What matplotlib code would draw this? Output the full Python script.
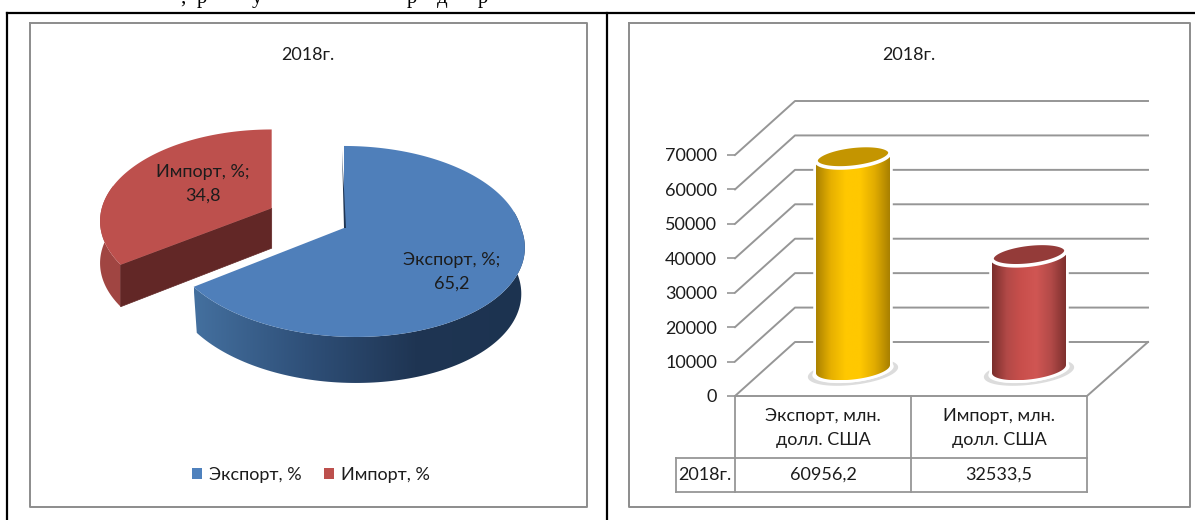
import numpy as np
import matplotlib
matplotlib.use("Agg")
import matplotlib.pyplot as plt
from matplotlib.colors import LinearSegmentedColormap
from matplotlib.patches import Patch, Polygon
from matplotlib.transforms import blended_transform_factory

plt.rcParams["font.family"] = ["Lato", "DejaVu Sans"]
TEXT = "#1c1c1c"
GRID = "#969696"
FS = 13

# data
year = "2018г."
pie_names = ["Экспорт, %", "Импорт, %"]
pie_shares = [65.2, 34.8]
bar_names = ["Экспорт, млн.\nдолл. США", "Импорт, млн.\nдолл. США"]
bar_values = [60956.2, 32533.5]
y_ticks = [0, 10000, 20000, 30000, 40000, 50000, 60000, 70000]


def comma(v):
    return f"{v:.1f}".replace(".", ",")


def gradient(ax, clip_pts, colors, zorder):
    # horizontal colour ramp cut to the shape of clip_pts
    cmap = LinearSegmentedColormap.from_list("g", colors)
    patch = Polygon(clip_pts, fc="none", ec="none", zorder=zorder)
    ax.add_patch(patch)
    x0, x1 = clip_pts[:, 0].min(), clip_pts[:, 0].max()
    y0, y1 = clip_pts[:, 1].min(), clip_pts[:, 1].max()
    im = ax.imshow(
        np.linspace(0, 1, 256)[None, :],
        cmap=cmap,
        extent=[x0, x1, y0, y1],
        aspect="auto",
        zorder=zorder,
    )
    im.set_clip_path(patch)


fig = plt.figure(figsize=(11.95, 5.2), dpi=100, facecolor="white")

# page layer in pixels
bg = fig.add_axes([0, 0, 1, 1])
bg.axis("off")

# page frame, panels
bg.plot([7, 1195], [13, 13], color="black", lw=1.6)
bg.plot([7, 7], [13, 520], color="black", lw=1.6)
bg.plot([607, 607], [13, 520], color="black", lw=1.6)
for x0, x1 in [(30, 587), (629, 1190)]:
    bg.plot([x0, x1, x1, x0, x0], [23, 23, 507, 507, 23], color="#8c8c8c", lw=1.4)
    bg.text((x0 + x1) / 2 - 1, 55, year, ha="center", va="center", fontsize=FS, color=TEXT)

# clipped line of the page text above the frame
for xt, s in [(183, ","), (202, "р"), (257, "у"), (412, "р"), (442, "д"), (483, "р")]:
    bg.text(xt, 3, s, family="Liberation Serif", fontsize=15, ha="center",
            va="baseline", color="black", clip_on=True)

# ---- pie ----
CX, CY = 344, 228
A, B, K = 177, 93.6, 0.141


def rim(theta, explode=0.0, mid=0.0, scale=1.0, drop=0.0, shrink=1.0, skew=0.0):
    # theta clockwise from 12 o'clock, perspective ellipse
    u, v = np.sin(theta), -np.cos(theta)
    x = CX + A * explode * np.sin(mid) + A * scale * shrink * u / (1 - K * v)
    x = x + skew * np.clip(v, 0, None)
    y = CY - B * explode * np.cos(mid) + B * scale * v / (1 - K * v) + drop
    return np.column_stack([x, y])


ends = np.cumsum(pie_shares) / np.sum(pie_shares) * 2 * np.pi
blue_end, red_end = ends
red_mid = (blue_end + red_end) / 2
explode = 0.46
red_kw = dict(explode=explode, mid=red_mid, scale=0.96)

# exploded slice
t = np.linspace(blue_end, np.radians(285), 40)
wall = np.vstack([rim(t, **red_kw), rim(t[::-1], drop=42, **red_kw)])
bg.add_patch(Polygon(wall, fc="#a04542", ec="none", zorder=2))
red_apex = rim(np.array([0.0]), explode=explode, mid=red_mid, scale=0.0)
p0 = rim(np.array([blue_end]), **red_kw)
inner = np.vstack([red_apex, p0, p0 + [0, 42], red_apex + [0, 40]])
bg.add_patch(Polygon(inner, fc="#622726", ec="#622726", lw=0.5, zorder=3))
t = np.linspace(blue_end, red_end, 120)
bg.add_patch(Polygon(np.vstack([red_apex, rim(t, **red_kw)]), fc="#bd504d", ec="none", zorder=4))

# main slice
t = np.linspace(np.radians(80), blue_end, 120)
wall = np.vstack([rim(t, skew=12), rim(t[::-1], drop=46, shrink=0.98, skew=12)])
gradient(bg, wall, ["#44709f", "#2f5079", "#1f3553", "#1c3350"], 2)
t = np.linspace(0, blue_end, 200)
apex = np.array([[CX, CY]])
bg.add_patch(Polygon(np.vstack([apex, rim(t, skew=12)]), fc="#4f7fba", ec="none", zorder=4))
bg.add_patch(Polygon([[CX - 2, 150], [CX + 2, CY], [CX, CY]], fc="#1f3553", ec="none", zorder=5))

bg.text(203, 184, f"{pie_names[1]};\n{comma(pie_shares[1])}", ha="center", va="center",
        fontsize=FS, color=TEXT, linespacing=1.6, zorder=6)
bg.text(452, 272, f"{pie_names[0]};\n{comma(pie_shares[0])}", ha="center", va="center",
        fontsize=FS, color=TEXT, linespacing=1.6, zorder=6)

handles = [Patch(fc="#4f81bd", label=pie_names[0]), Patch(fc="#bd504d", label=pie_names[1])]
bg.legend(
    handles=handles,
    ncol=2,
    loc="center",
    bbox_to_anchor=(311, 475),
    bbox_transform=bg.transData,
    frameon=False,
    fontsize=FS,
    labelcolor=TEXT,
    handlelength=0.58,
    handleheight=0.58,
    handletextpad=0.4,
    columnspacing=1.2,
)

# ---- cylinders ----
ax = fig.add_axes([735 / 1195, (520 - 396) / 520, 352 / 1195, 241 / 520], zorder=2)
ax.patch.set_visible(False)
for s in ax.spines.values():
    s.set_visible(False)

DX, DY = 60 / 176, 54 / 241 * 70000
X_END = 413 / 176
for v in y_ticks:
    ax.plot([0, DX, X_END], [v, v + DY, v + DY], color=GRID, lw=1.4, clip_on=False, zorder=1)
ax.plot([0, 2, X_END], [0, 0, DY], color=GRID, lw=1.4, clip_on=False, zorder=1)

RX, RY, TILT = 37 / 176, 10.5 / 241 * 70000, 4 / 241 * 70000
body_colors = [
    ["#ab8200", "#e6b000", "#ffc800", "#ffc800", "#e0ab00", "#a88000"],
    ["#7a2e2c", "#b24947", "#c94f4c", "#d05653", "#b24a48", "#7e302e"],
]
top_colors = ["#c49500", "#943b39"]


def ring(cx, cy, t, grow=1.0):
    return np.column_stack([cx + grow * RX * np.cos(t), cy + grow * (RY * np.sin(t) + TILT * np.cos(t))])


full = np.linspace(0, 2 * np.pi, 120)
front = np.linspace(np.pi, 2 * np.pi, 60)
back = np.linspace(0, np.pi, 60)
for i, val in enumerate(bar_values):
    cx = i + 0.5 + DX / 2
    base = DY / 2
    top = base + val
    ax.add_patch(Polygon(ring(cx, base - 900, full, 1.22), fc="#dcdcdc", ec="none", zorder=2))
    ax.add_patch(Polygon(ring(cx, base - 500, full, 1.1), fc="white", ec="none", zorder=2))
    body = np.vstack([ring(cx, base, front), ring(cx, top, back)])
    ax.add_patch(Polygon(body, fc="white", ec="white", lw=4, zorder=3, clip_on=False))
    gradient(ax, body, body_colors[i], 4)
    ax.add_patch(Polygon(ring(cx, top + 700, full), fc=top_colors[i], ec="white", lw=2.6,
                         zorder=5, clip_on=False))

ax.set_xlim(0, 2)
ax.set_ylim(0, 70000)
ax.set_xticks([])
ax.set_yticks(y_ticks)
ax.tick_params(axis="y", length=6, width=1.2, color=GRID, labelsize=FS, labelcolor=TEXT, pad=7)

# data table under the axis
for x, y0, y1 in [(735, 396, 492), (911, 396, 492), (1087, 396, 492), (676, 458, 492)]:
    bg.plot([x, x], [y0, y1], color=GRID, lw=1.3)
for y in [458, 492]:
    bg.plot([676, 1087], [y, y], color=GRID, lw=1.3)
bg.text(705, 475, year, ha="center", va="center", fontsize=FS, color=TEXT)
trans = blended_transform_factory(ax.transData, bg.transData)
for i, (name, val) in enumerate(zip(bar_names, bar_values)):
    ax.text(i + 0.5, 428, name, transform=trans, ha="center", va="center", fontsize=FS,
            color=TEXT, linespacing=1.6, clip_on=False)
    ax.text(i + 0.5, 475, comma(val), transform=trans, ha="center", va="center", fontsize=FS,
            color=TEXT, clip_on=False)

bg.set_xlim(0, 1195)
bg.set_ylim(520, 0)

fig.savefig("out.png", dpi=100)
